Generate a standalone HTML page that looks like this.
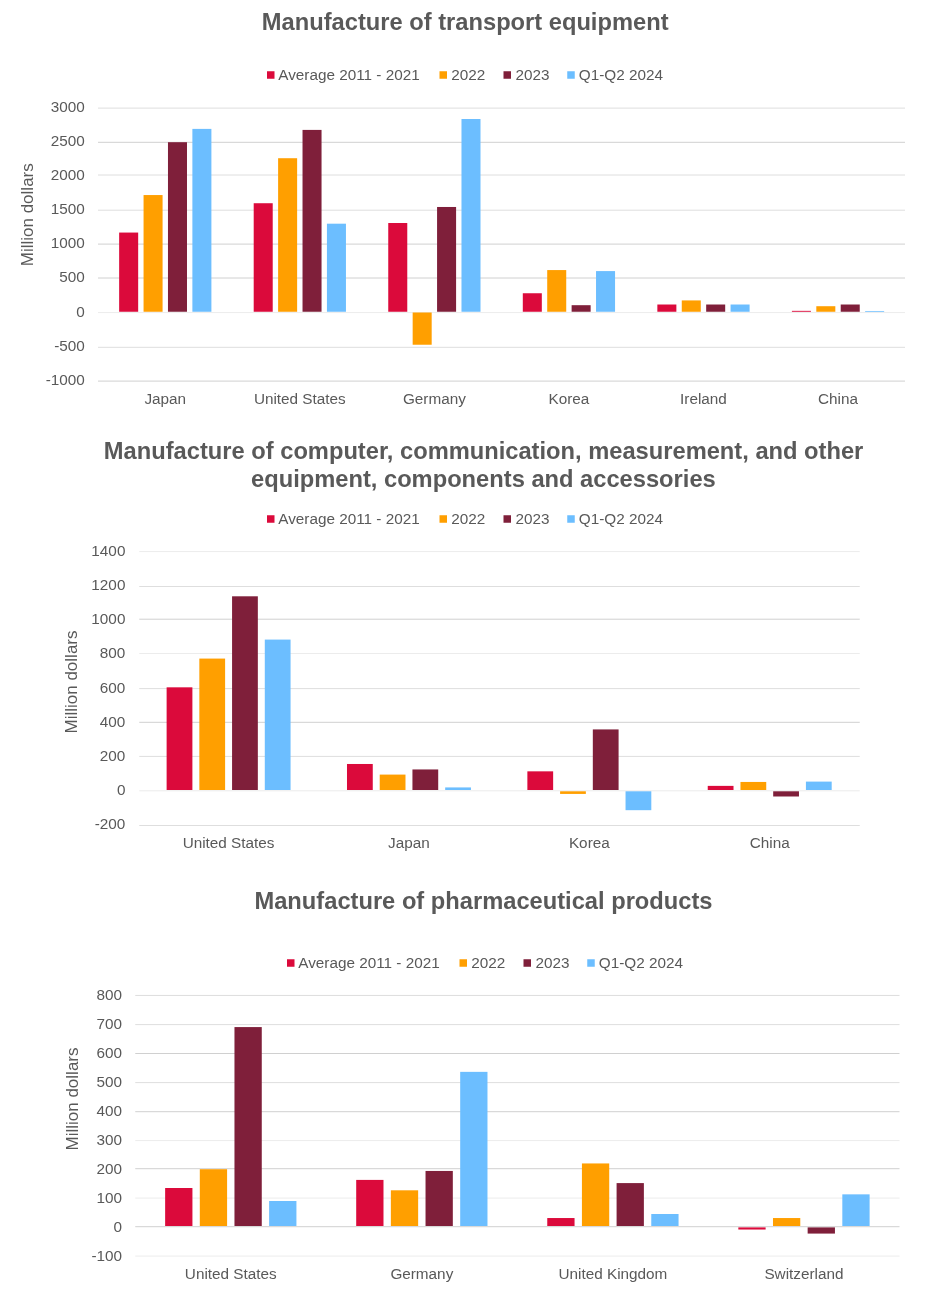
<!DOCTYPE html>
<html><head><meta charset="utf-8"><title>Charts</title>
<style>html,body{margin:0;padding:0;background:#fff}svg{display:block}text{font-family:"Liberation Sans",sans-serif;fill:#595959}</style>
</head><body>
<svg width="927" height="1295" viewBox="0 0 927 1295">
<rect width="927" height="1295" fill="#fff"/>
<line x1="98" x2="905" y1="108.10" y2="108.10" stroke="#DEDEDE" stroke-width="1"/>
<text x="84.8" y="112.00" text-anchor="end" font-size="15.3">3000</text>
<line x1="98" x2="905" y1="142.30" y2="142.30" stroke="#D0D0D0" stroke-width="1"/>
<text x="84.8" y="146.09" text-anchor="end" font-size="15.3">2500</text>
<line x1="98" x2="905" y1="175.00" y2="175.00" stroke="#DEDEDE" stroke-width="1"/>
<text x="84.8" y="180.18" text-anchor="end" font-size="15.3">2000</text>
<line x1="98" x2="905" y1="210.20" y2="210.20" stroke="#DEDEDE" stroke-width="1"/>
<text x="84.8" y="214.27" text-anchor="end" font-size="15.3">1500</text>
<line x1="98" x2="905" y1="244.10" y2="244.10" stroke="#D0D0D0" stroke-width="1"/>
<text x="84.8" y="248.36" text-anchor="end" font-size="15.3">1000</text>
<line x1="98" x2="905" y1="278.00" y2="278.00" stroke="#D0D0D0" stroke-width="1"/>
<text x="84.8" y="282.45" text-anchor="end" font-size="15.3">500</text>
<line x1="98" x2="905" y1="312.60" y2="312.60" stroke="#ECECEC" stroke-width="1"/>
<text x="84.8" y="316.54" text-anchor="end" font-size="15.3">0</text>
<line x1="98" x2="905" y1="347.30" y2="347.30" stroke="#DEDEDE" stroke-width="1"/>
<text x="84.8" y="350.63" text-anchor="end" font-size="15.3">-500</text>
<line x1="98" x2="905" y1="381.10" y2="381.10" stroke="#D0D0D0" stroke-width="1"/>
<text x="84.8" y="384.72" text-anchor="end" font-size="15.3">-1000</text>
<rect x="119.15" y="232.56" width="19.02" height="79.19" fill="#DB0A3B"/>
<rect x="143.56" y="195.05" width="19.02" height="116.70" fill="#FF9F00"/>
<rect x="167.97" y="142.19" width="19.02" height="169.56" fill="#7F1F3A"/>
<rect x="192.38" y="128.89" width="19.02" height="182.86" fill="#6CBEFF"/>
<text x="165.27" y="403.5" text-anchor="middle" font-size="15.3">Japan</text>
<rect x="253.70" y="203.23" width="19.02" height="108.52" fill="#DB0A3B"/>
<rect x="278.11" y="158.22" width="19.02" height="153.53" fill="#FF9F00"/>
<rect x="302.52" y="129.91" width="19.02" height="181.84" fill="#7F1F3A"/>
<rect x="326.93" y="223.69" width="19.02" height="88.06" fill="#6CBEFF"/>
<text x="299.82" y="403.5" text-anchor="middle" font-size="15.3">United States</text>
<rect x="388.25" y="223.01" width="19.02" height="88.74" fill="#DB0A3B"/>
<rect x="412.66" y="312.50" width="19.02" height="32.24" fill="#FF9F00"/>
<rect x="437.07" y="206.98" width="19.02" height="104.77" fill="#7F1F3A"/>
<rect x="461.48" y="119.00" width="19.02" height="192.75" fill="#6CBEFF"/>
<text x="434.37" y="403.5" text-anchor="middle" font-size="15.3">Germany</text>
<rect x="522.80" y="293.25" width="19.02" height="18.50" fill="#DB0A3B"/>
<rect x="547.21" y="270.07" width="19.02" height="41.68" fill="#FF9F00"/>
<rect x="571.62" y="305.19" width="19.02" height="6.56" fill="#7F1F3A"/>
<rect x="596.03" y="271.09" width="19.02" height="40.66" fill="#6CBEFF"/>
<text x="568.92" y="403.5" text-anchor="middle" font-size="15.3">Korea</text>
<rect x="657.35" y="304.51" width="19.02" height="7.24" fill="#DB0A3B"/>
<rect x="681.76" y="300.42" width="19.02" height="11.33" fill="#FF9F00"/>
<rect x="706.17" y="304.51" width="19.02" height="7.24" fill="#7F1F3A"/>
<rect x="730.58" y="304.51" width="19.02" height="7.24" fill="#6CBEFF"/>
<text x="703.47" y="403.5" text-anchor="middle" font-size="15.3">Ireland</text>
<rect x="791.90" y="310.85" width="19.02" height="0.90" fill="#DB0A3B"/>
<rect x="816.31" y="306.21" width="19.02" height="5.54" fill="#FF9F00"/>
<rect x="840.72" y="304.51" width="19.02" height="7.24" fill="#7F1F3A"/>
<rect x="865.13" y="310.99" width="19.02" height="0.76" fill="#6CBEFF"/>
<text x="838.02" y="403.5" text-anchor="middle" font-size="15.3">China</text>
<text transform="translate(33,214.75) rotate(-90)" text-anchor="middle" font-size="17">Million dollars</text>
<text x="465.2" y="30" text-anchor="middle" font-size="23.7" font-weight="bold">Manufacture of transport equipment</text>
<rect x="267" y="71.25" width="7.5" height="7.5" fill="#DB0A3B"/>
<text x="278.25" y="80.0" font-size="15.3">Average 2011 - 2021</text>
<rect x="439.5" y="71.25" width="7.5" height="7.5" fill="#FF9F00"/>
<text x="451.25" y="80.0" font-size="15.3">2022</text>
<rect x="503.5" y="71.25" width="7.5" height="7.5" fill="#7F1F3A"/>
<text x="515.5" y="80.0" font-size="15.3">2023</text>
<rect x="567.25" y="71.25" width="7.5" height="7.5" fill="#6CBEFF"/>
<text x="578.75" y="80.0" font-size="15.3">Q1-Q2 2024</text>
<line x1="139.25" x2="859.75" y1="551.60" y2="551.60" stroke="#ECECEC" stroke-width="1"/>
<text x="125.4" y="555.80" text-anchor="end" font-size="15.3">1400</text>
<line x1="139.25" x2="859.75" y1="586.50" y2="586.50" stroke="#DEDEDE" stroke-width="1"/>
<text x="125.4" y="590.00" text-anchor="end" font-size="15.3">1200</text>
<line x1="139.25" x2="859.75" y1="619.20" y2="619.20" stroke="#D0D0D0" stroke-width="1"/>
<text x="125.4" y="624.20" text-anchor="end" font-size="15.3">1000</text>
<line x1="139.25" x2="859.75" y1="653.50" y2="653.50" stroke="#ECECEC" stroke-width="1"/>
<text x="125.4" y="658.40" text-anchor="end" font-size="15.3">800</text>
<line x1="139.25" x2="859.75" y1="688.60" y2="688.60" stroke="#DEDEDE" stroke-width="1"/>
<text x="125.4" y="692.60" text-anchor="end" font-size="15.3">600</text>
<line x1="139.25" x2="859.75" y1="722.30" y2="722.30" stroke="#D0D0D0" stroke-width="1"/>
<text x="125.4" y="726.80" text-anchor="end" font-size="15.3">400</text>
<line x1="139.25" x2="859.75" y1="756.40" y2="756.40" stroke="#DEDEDE" stroke-width="1"/>
<text x="125.4" y="761.00" text-anchor="end" font-size="15.3">200</text>
<line x1="139.25" x2="859.75" y1="790.80" y2="790.80" stroke="#ECECEC" stroke-width="1"/>
<text x="125.4" y="795.20" text-anchor="end" font-size="15.3">0</text>
<line x1="139.25" x2="859.75" y1="825.50" y2="825.50" stroke="#DEDEDE" stroke-width="1"/>
<text x="125.4" y="829.40" text-anchor="end" font-size="15.3">-200</text>
<rect x="166.62" y="687.33" width="25.77" height="102.67" fill="#DB0A3B"/>
<rect x="199.34" y="658.58" width="25.77" height="131.42" fill="#FF9F00"/>
<rect x="232.07" y="596.30" width="25.77" height="193.70" fill="#7F1F3A"/>
<rect x="264.79" y="639.59" width="25.77" height="150.41" fill="#6CBEFF"/>
<text x="228.59" y="848" text-anchor="middle" font-size="15.3">United States</text>
<rect x="346.99" y="763.98" width="25.77" height="26.02" fill="#DB0A3B"/>
<rect x="379.72" y="774.59" width="25.77" height="15.41" fill="#FF9F00"/>
<rect x="412.44" y="769.45" width="25.77" height="20.55" fill="#7F1F3A"/>
<rect x="445.17" y="787.42" width="25.77" height="2.58" fill="#6CBEFF"/>
<text x="408.96" y="848" text-anchor="middle" font-size="15.3">Japan</text>
<rect x="527.37" y="771.34" width="25.77" height="18.66" fill="#DB0A3B"/>
<rect x="560.09" y="791.30" width="25.77" height="2.62" fill="#FF9F00"/>
<rect x="592.82" y="729.42" width="25.77" height="60.58" fill="#7F1F3A"/>
<rect x="625.54" y="791.30" width="25.77" height="18.88" fill="#6CBEFF"/>
<text x="589.34" y="848" text-anchor="middle" font-size="15.3">Korea</text>
<rect x="707.74" y="785.88" width="25.77" height="4.12" fill="#DB0A3B"/>
<rect x="740.47" y="781.95" width="25.77" height="8.05" fill="#FF9F00"/>
<rect x="773.19" y="791.30" width="25.77" height="5.19" fill="#7F1F3A"/>
<rect x="805.92" y="781.60" width="25.77" height="8.40" fill="#6CBEFF"/>
<text x="769.71" y="848" text-anchor="middle" font-size="15.3">China</text>
<text transform="translate(77,682) rotate(-90)" text-anchor="middle" font-size="17">Million dollars</text>
<text x="483.6" y="458.5" text-anchor="middle" font-size="23.7" font-weight="bold">Manufacture of computer, communication, measurement, and other</text>
<text x="483.4" y="486.5" text-anchor="middle" font-size="23.7" font-weight="bold">equipment, components and accessories</text>
<rect x="267" y="515.25" width="7.5" height="7.5" fill="#DB0A3B"/>
<text x="278.25" y="524.0" font-size="15.3">Average 2011 - 2021</text>
<rect x="439.5" y="515.25" width="7.5" height="7.5" fill="#FF9F00"/>
<text x="451.25" y="524.0" font-size="15.3">2022</text>
<rect x="503.5" y="515.25" width="7.5" height="7.5" fill="#7F1F3A"/>
<text x="515.5" y="524.0" font-size="15.3">2023</text>
<rect x="567.25" y="515.25" width="7.5" height="7.5" fill="#6CBEFF"/>
<text x="578.75" y="524.0" font-size="15.3">Q1-Q2 2024</text>
<line x1="135.25" x2="899.5" y1="995.45" y2="995.45" stroke="#DEDEDE" stroke-width="1"/>
<text x="122" y="999.90" text-anchor="end" font-size="15.3">800</text>
<line x1="135.25" x2="899.5" y1="1024.60" y2="1024.60" stroke="#DEDEDE" stroke-width="1"/>
<text x="122" y="1028.87" text-anchor="end" font-size="15.3">700</text>
<line x1="135.25" x2="899.5" y1="1053.50" y2="1053.50" stroke="#D0D0D0" stroke-width="1"/>
<text x="122" y="1057.84" text-anchor="end" font-size="15.3">600</text>
<line x1="135.25" x2="899.5" y1="1082.60" y2="1082.60" stroke="#DEDEDE" stroke-width="1"/>
<text x="122" y="1086.81" text-anchor="end" font-size="15.3">500</text>
<line x1="135.25" x2="899.5" y1="1111.70" y2="1111.70" stroke="#D0D0D0" stroke-width="1"/>
<text x="122" y="1115.78" text-anchor="end" font-size="15.3">400</text>
<line x1="135.25" x2="899.5" y1="1140.60" y2="1140.60" stroke="#ECECEC" stroke-width="1"/>
<text x="122" y="1144.75" text-anchor="end" font-size="15.3">300</text>
<line x1="135.25" x2="899.5" y1="1168.70" y2="1168.70" stroke="#D0D0D0" stroke-width="1"/>
<text x="122" y="1173.72" text-anchor="end" font-size="15.3">200</text>
<line x1="135.25" x2="899.5" y1="1198.10" y2="1198.10" stroke="#ECECEC" stroke-width="1"/>
<text x="122" y="1202.69" text-anchor="end" font-size="15.3">100</text>
<line x1="135.25" x2="899.5" y1="1226.70" y2="1226.70" stroke="#D0D0D0" stroke-width="1"/>
<text x="122" y="1231.66" text-anchor="end" font-size="15.3">0</text>
<line x1="135.25" x2="899.5" y1="1256.10" y2="1256.10" stroke="#ECECEC" stroke-width="1"/>
<text x="122" y="1260.63" text-anchor="end" font-size="15.3">-100</text>
<rect x="165.14" y="1188.00" width="27.29" height="38.00" fill="#DB0A3B"/>
<rect x="199.80" y="1169.22" width="27.29" height="56.78" fill="#FF9F00"/>
<rect x="234.47" y="1027.08" width="27.29" height="198.92" fill="#7F1F3A"/>
<rect x="269.13" y="1201.00" width="27.29" height="25.00" fill="#6CBEFF"/>
<text x="230.78" y="1278.8" text-anchor="middle" font-size="15.3">United States</text>
<rect x="356.20" y="1179.91" width="27.29" height="46.09" fill="#DB0A3B"/>
<rect x="390.86" y="1190.31" width="27.29" height="35.69" fill="#FF9F00"/>
<rect x="425.53" y="1170.95" width="27.29" height="55.05" fill="#7F1F3A"/>
<rect x="460.19" y="1071.86" width="27.29" height="154.14" fill="#6CBEFF"/>
<text x="421.84" y="1278.8" text-anchor="middle" font-size="15.3">Germany</text>
<rect x="547.26" y="1218.04" width="27.29" height="7.96" fill="#DB0A3B"/>
<rect x="581.93" y="1163.44" width="27.29" height="62.56" fill="#FF9F00"/>
<rect x="616.59" y="1183.09" width="27.29" height="42.91" fill="#7F1F3A"/>
<rect x="651.26" y="1214.00" width="27.29" height="12.00" fill="#6CBEFF"/>
<text x="612.91" y="1278.8" text-anchor="middle" font-size="15.3">United Kingdom</text>
<rect x="738.33" y="1227.40" width="27.29" height="2.13" fill="#DB0A3B"/>
<rect x="772.99" y="1218.04" width="27.29" height="7.96" fill="#FF9F00"/>
<rect x="807.65" y="1227.40" width="27.29" height="6.18" fill="#7F1F3A"/>
<rect x="842.32" y="1194.35" width="27.29" height="31.65" fill="#6CBEFF"/>
<text x="803.97" y="1278.8" text-anchor="middle" font-size="15.3">Switzerland</text>
<text transform="translate(78,1099) rotate(-90)" text-anchor="middle" font-size="17">Million dollars</text>
<text x="483.5" y="908.5" text-anchor="middle" font-size="23.7" font-weight="bold">Manufacture of pharmaceutical products</text>
<rect x="287" y="959.25" width="7.5" height="7.5" fill="#DB0A3B"/>
<text x="298.25" y="968.0" font-size="15.3">Average 2011 - 2021</text>
<rect x="459.5" y="959.25" width="7.5" height="7.5" fill="#FF9F00"/>
<text x="471.25" y="968.0" font-size="15.3">2022</text>
<rect x="523.5" y="959.25" width="7.5" height="7.5" fill="#7F1F3A"/>
<text x="535.5" y="968.0" font-size="15.3">2023</text>
<rect x="587.25" y="959.25" width="7.5" height="7.5" fill="#6CBEFF"/>
<text x="598.75" y="968.0" font-size="15.3">Q1-Q2 2024</text>
</svg>
</body></html>
